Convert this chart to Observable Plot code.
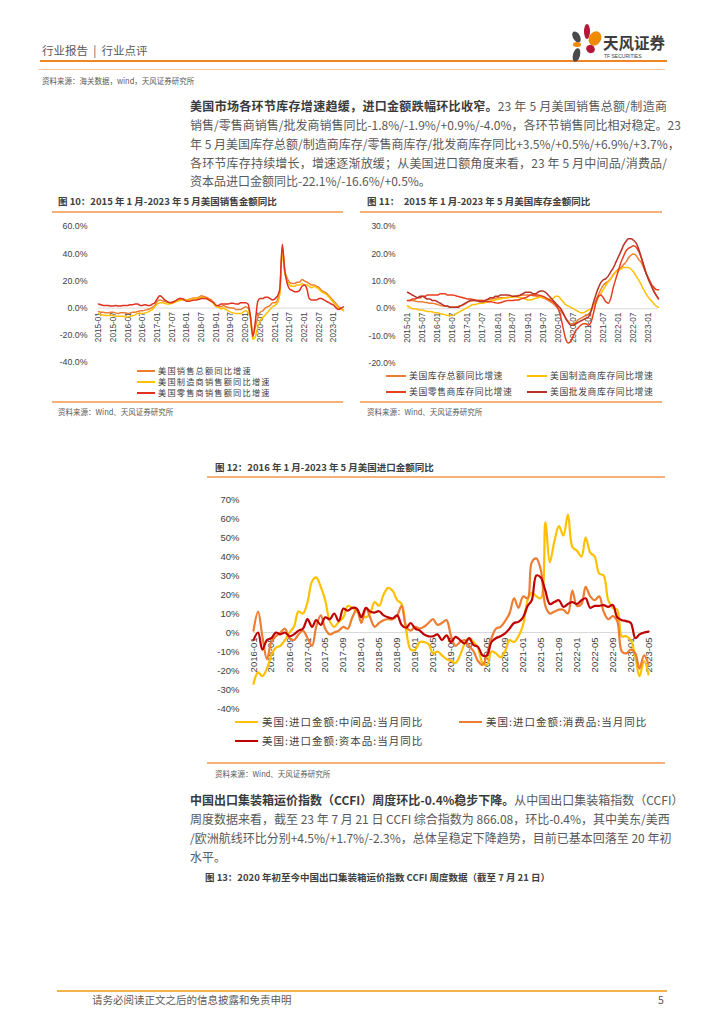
<!DOCTYPE html>
<html><head><meta charset="utf-8">
<script src="https://cdn.jsdelivr.net/npm/d3@7"></script>
<script src="https://cdn.jsdelivr.net/npm/@observablehq/plot@0.6"></script>
<style>
html,body{margin:0;padding:0;background:#fff;}
#page{position:relative;width:724px;height:1024px;overflow:hidden;font-family:"Noto Sans CJK SC","Noto Sans",sans-serif;color:#595959;}
.abs{position:absolute;white-space:nowrap;}
.rule{position:absolute;}
.para{position:absolute;left:190px;width:477px;font-size:12px;line-height:16px;height:16px;white-space:nowrap;color:#595959;}
.just{text-align:justify;text-align-last:justify;}
.para b{color:#3a3a3a;font-weight:700;}
.ftitle{position:absolute;font-size:9.5px;line-height:11px;font-weight:700;color:#404040;white-space:nowrap;}
.src{position:absolute;font-size:7.5px;line-height:9px;color:#595959;white-space:nowrap;}
.chart{position:absolute;}
.chart svg{overflow:visible;}
.lg{position:absolute;white-space:nowrap;color:#404040;}
.petal{position:absolute;border-radius:50%;}
</style></head>
<body><div id="page"></div>
<script>
// ---------------- data ----------------
const xTicks10 = ["2015-01","2015-07","2016-01","2016-07","2017-01","2017-07","2018-01","2018-07","2019-01","2019-07","2020-01","2020-07","2021-01","2021-07","2022-01","2022-07","2023-01"];
const yTicks10 = [60, 40, 20, 0, -20, -40];
const names10 = ["美国销售总额同比增速", "美国制造商销售额同比增速", "美国零售商销售额同比增速"];
const colors10 = ["#ED7D31", "#FFC000", "#E0301E"];
const salesTotal = [
 -2.5,-3,-3,-3.5,-3.5,-3,-3,-3.5,-4,-3.5,-3.5,-3.5,
 -4,-3.5,-3,-3,-2.5,-2,-2,-1.5,-1,-0.5,0.5,2,
 5,6,5.5,5,4.5,4,4.5,5,5.5,6,6.5,6.5,
 6,6.5,7,7.5,7.5,8,9,8.5,8,7,6,4,
 2,1.5,1,2,1,0.5,0,0,-1,-1,-1,0,
 1,0,-6,-20,-14,-7,-3,-2,0,1,2,4,
 4,6,12,45,28,22,19,18,18,19,19,21,
 20,19,18,17,17,16,15,13,12,11,9,7,
 5,3,1,0,-1.8];
const salesManu = [
 -4,-5,-5,-5.5,-5.5,-5,-5.5,-6,-6,-6,-6,-6.5,
 -6.5,-6,-5.5,-5,-4,-4,-4,-3.5,-3,-2,-1,1,
 3,4,4,3.5,3,3,3.5,4,5,5.5,6,6,
 6,6,6.5,7,7,7.5,8,7.5,7,6,5,3,
 1,0.5,-0.5,0,-1,-2,-3,-3.5,-4,-4,-4,-3,
 -2,-3,-8,-23,-21,-14,-9,-7,-5,-3,-1,1,
 2,4,10,40,26,20,17,16,16,17,17,18,
 17,17,16,15,16,15,14,12,11,10,8,6,
 4,2,0,-1,-1.9];
const salesRetail = [
 3,2.5,2,2,2,1.5,1.5,2,1.5,1.5,2,2,
 2,2.5,2.5,3,3,2,2,2.5,2,2,3,4,
 7,9,8,6,5,4,4,5,6,7,7,6,
 5,5,5.5,6,6,6.5,7,7,7,6,5,4,
 2,2,3,3,3,3,3.5,3.5,3,3,4,4,
 4,3,-6,-21,-10,5,7,7,8,8,7,6,
 7,9,14,47,28,18,14,13,12,12,13,16,
 17,14,7,6,6,6,7,7,6,5,4,3,
 2,0,-1,0,0.9];

const xTicks11 = xTicks10;
const yTicks11 = [30, 20, 10, 0, -10, -20];
const names11 = ["美国库存总额同比增速", "美国制造商库存同比增速", "美国零售商库存同比增速", "美国批发商库存同比增速"];
const colors11 = ["#ED7D31", "#FFC000", "#E8401C", "#B8322A"];
const invTotal = [
 3,3,3,2.8,2.6,2.5,2.5,2.3,2.2,2,2,1.8,
 1.5,1.2,1,1,0.8,0.6,0.5,0.6,0.8,1,1.2,1.8,
 2.5,2.8,3,3,3,3,3,3,3.2,3.4,3.6,3.8,
 4,4,4,4,4.2,4.2,4.5,4.6,4.8,4.8,5,5,
 5,5,4.8,4.6,4.4,4.2,4,3.6,3,2.5,1.8,1,
 0,-1,-2,-3.5,-4.5,-5.5,-5.5,-5,-4,-3.5,-3,-2.5,
 -2,-1,1,3,5,7,8.5,9.5,10,11,12.5,13.5,
 14.5,15,16,17,18.5,19.5,20,19.5,18,17,15,13,
 11,9,7,5,3.5];
const invManu = [
 1,0.5,0,0,-0.3,-0.5,-0.5,-0.8,-1,-1,-1.2,-1.5,
 -1.5,-1.8,-2,-2.2,-2.5,-2.5,-2.5,-2,-1.5,-1,-0.5,0,
 0.5,1,1.5,1.5,1.8,2,2,2.2,2.5,2.8,3,3.2,
 3.5,3.6,3.8,4,4,4.2,4.2,4.4,4.2,4,3.8,3.5,
 3.2,3.2,3.5,3.8,4,4.2,4,3.8,3.6,3.5,3.8,4.5,
 4.5,3.5,2.5,1.5,1,0.5,0,-0.5,-1,-1.5,-1.5,-1,
 -0.5,0,1,2,4,5.5,7,8.5,10,11,12.5,13.5,
 14,14.5,15,15,15,14.5,13.5,12,10.5,9,7,5.5,
 4,3,2,1,0.5];
const invRetail = [
 3,3,3.5,3.5,4,4,4.5,4.5,5,5,5,5,
 5,5.5,5.5,5.5,5,5,5,4.8,4.5,4.3,4,3.8,
 3.5,3.5,3.4,3.2,3,3,3,2.8,2.5,2.5,2.4,2.2,
 2,2.2,2.5,2.8,3,3,3,3.2,3.2,3.5,3.8,4,
 4.5,5,5,5,5,4.8,4.5,4,3.5,3,2.5,1.5,
 0,-3,-7,-11,-12.5,-12,-10,-8,-7,-6,-5.5,-5.5,
 -6,-5,-2,2,4.5,5,4,2.5,2,4,8,11,
 14,17,19,21,22,22.5,23,22.5,21,19,16,13,
 11,9,8,7,6.9];
const invWholesale = [
 6,5.5,5,4.5,4,4.5,4.5,4,3.5,3.5,3,3,
 2.5,2,1.5,1,1,0.5,0.5,0.5,0.5,1,1.5,2,
 2.5,3,3,3,2.8,2.5,2.5,3,3.5,4,4,4.5,
 4.5,5,5,5,5,4.8,4.5,4.5,4.6,5,5.5,6,
 6,6,5.5,5.5,6,6.5,6.5,6,5,4,3,2,
 1,0,-1.5,-3.5,-5,-6,-6,-5.5,-5,-4.5,-4,-3.5,
 -3,-1,2,5,7.5,9.5,10.5,11,12,13.5,15,17,
 19,21,23,24.5,25.5,25.5,25,24,22,19,16,13,
 10.5,8.5,6.5,5,3.7];

const xTicks12 = ["2016-01","2016-05","2016-09","2017-01","2017-05","2017-09","2018-01","2018-05","2018-09","2019-01","2019-05","2019-09","2020-01","2020-05","2020-09","2021-01","2021-05","2021-09","2022-01","2022-05","2022-09","2023-01","2023-05"];
const yTicks12 = [70, 60, 50, 40, 30, 20, 10, 0, -10, -20, -30, -40];
const names12 = ["美国:进口金额:中间品:当月同比", "美国:进口金额:消费品:当月同比", "美国:进口金额:资本品:当月同比"];
const colors12 = ["#FFC000", "#ED7D31", "#C00000"];
const impIntermediate = [
 -27,-21,-23,-19,-12,-8,-7,-4,0,3,11,10,
 16,27,29,24,17,6,3,5.6,8,14,13,11,
 9,8,10,16,14,20,23.5,22,17,15,1,-9,
 -9,-5,-5,-6,-11,-10,-12,-14,-15,-16,-12,-6,
 -3,-5,-8,-16,-17,-10,-11,-13,-10,-4,-5,-2,
 4,17,21,19,18,58,37,48,56,51,62,45,
 43,40,50,42,40,31,30,17,13,12,-2,-2,
 -4,-13,-23,-15,-22.1];
const impConsumer = [
 1,11,-2,-14,-5,-2,0,2,-3,-4,-1,1,
 -3,-7,3,9,2,-1,0,1,3,2,8,12,
 5,13,8,3,5,6.5,7,7,9,14,3,1,
 3,2,3,5,7,4,5,6.5,-2,-7,-5,-4,
 -7,-10,-15,-17,-12,-3,2,3,6,10,18,13,
 19,18,37,39,33,14,10,11,12,12,10,22,
 14,15,24,19,17,19,11,7,8.6,6,-10,-11,
 -9,-11,-19,-12,-16.6];
const impCapital = [
 -4,0,-9,-4,-3,0,-1,0,-2,-1,1,2,
 7,3,6.5,4,8,7,10,6,12.6,11.5,13,12.6,
 8,13,11,10.5,11.2,9,8,7.5,9,4,2.5,5,
 2,1,-1,-2,-2,-1,-4,-1.5,-5,-2.3,-4,-5.8,
 -3,-6.7,-7.5,-12,-12,-5,-3,-2,-0.5,2,5,5.6,
 8,14,17,30,29,22,15,16,17,13.5,15,16,
 15,17,18,13,14,14,14.4,13.5,14.5,8,6.5,6,
 5,-3,-1,0,0.5];

// ---------------- helpers ----------------
const page = document.getElementById("page");
const chartFont = '"Liberation Sans", Arial, "Noto Sans CJK SC", sans-serif';
function el(cls, css, html) {
  const d = document.createElement("div");
  d.className = cls;
  Object.assign(d.style, css);
  if (html != null) d.innerHTML = html;
  page.appendChild(d);
  return d;
}
function rule(left, top, width, height, color) {
  el("rule", {left: left + "px", top: top + "px", width: width + "px", height: height + "px", background: color});
}
function monthsFrom(y, m, n) { return d3.range(n).map(i => new Date(Date.UTC(y, m - 1 + i, 1))); }
function series(dates, values, name) { return values.map((v, i) => ({date: dates[i], value: v, name})); }
function parseTick(s) { return new Date(s + "-01T00:00:00Z"); }

// ---------------- header ----------------
el("abs", {left: "42px", top: "43px", fontSize: "11.5px", lineHeight: "14px", color: "#595959"}, "行业报告&nbsp;&nbsp;|&nbsp;&nbsp;行业点评");
rule(40, 60, 627, 2, "#F08528");
rule(38, 68.5, 627, 1, "#F9CBA3");
el("src", {left: "42px", top: "75.5px"}, "资料来源：海关数据，wind，天风证券研究所");
// logo
const logo = [
  {l: 573, t: 31, w: 7, h: 12, c: "#4a4a4a", r: -30},
  {l: 584, t: 24, w: 6, h: 15, c: "#B5173A", r: 0},
  {l: 589, t: 31, w: 12, h: 15, c: "#F08A00", r: 30},
  {l: 573, t: 42, w: 8, h: 5, c: "#F08A00", r: 0},
  {l: 586, t: 45, w: 9, h: 8, c: "#B5173A", r: 30},
  {l: 573, t: 48, w: 7, h: 14, c: "#4a4a4a", r: 15}
];
logo.forEach(p => el("petal", {left: p.l + "px", top: p.t + "px", width: p.w + "px", height: p.h + "px", background: p.c, transform: `rotate(${p.r}deg)`}));
el("abs", {left: "603px", top: "34px", fontSize: "15.5px", lineHeight: "17px", fontWeight: "700", color: "#3d3d3d"}, "天风证券");
el("abs", {left: "604px", top: "53px", fontSize: "5px", lineHeight: "6px", color: "#3d3d3d", fontFamily: "Liberation Sans, Arial"}, "TF SECURITIES");

// ---------------- paragraph 1 ----------------
const p1 = [
  ["just", "<b>美国市场各环节库存增速趋缓，进口金额跌幅环比收窄。</b>23 年 5 月美国销售总额/制造商"],
  ["just", "销售/零售商销售/批发商销售同比-1.8%/-1.9%/+0.9%/-4.0%，各环节销售同比相对稳定。23"],
  ["just", "年 5 月美国库存总额/制造商库存/零售商库存/批发商库存同比+3.5%/+0.5%/+6.9%/+3.7%，"],
  ["just", "各环节库存持续增长，增速逐渐放缓；从美国进口额角度来看，23 年 5 月中间品/消费品/"],
  ["", "资本品进口金额同比-22.1%/-16.6%/+0.5%。"]
];
[106, 125, 144, 162.5, 181].forEach((y, i) => el("para " + p1[i][0], {top: (y - 8) + "px"}, p1[i][1]));

// ---------------- legends ----------------
function legend(items, colors, xLine, xText, yc, lw, lh, fs, ls) {
  items.forEach((name, i) => {
    el("rule", {left: xLine[i] + "px", top: (yc[i] - lh / 2) + "px", width: lw + "px", height: lh + "px", background: colors[i]});
    el("lg", {left: xText[i] + "px", top: (yc[i] - fs * 0.55) + "px", fontSize: fs + "px", lineHeight: (fs * 1.1) + "px", height: (fs * 1.1) + "px", letterSpacing: ls + "px"}, name);
  });
}

function drawChart(opts) {
  const {left, top, width, height, mL, mR, mT, mB, yDomain, yTicks, yFmt, yFs, pad, xTicks, xFs, dy, dates, data, colors, sw, curve} = opts;
  const marks = [
    Plot.ruleY([0], {stroke: "#D9D9D9", strokeWidth: 1}),
    Plot.axisY({ticks: yTicks, tickSize: 0, tickPadding: pad, tickFormat: yFmt, fontSize: yFs, fill: "#404040", label: null}),
    Plot.text(xTicks, {x: parseTick, y: 0, text: d => d, rotate: -90, textAnchor: "end", dy: dy, fontSize: xFs, fill: "#404040"})
  ];
  data.forEach((vals, i) => {
    marks.push(Plot.line(series(dates, vals, i), {x: "date", y: "value", stroke: colors[i], strokeWidth: sw, curve}));
  });
  const svg = Plot.plot({
    width, height, marginLeft: mL, marginRight: mR, marginTop: mT, marginBottom: mB,
    x: {type: "utc", domain: [dates[0], dates[dates.length - 1]], axis: null},
    y: {domain: yDomain},
    style: {fontFamily: chartFont, background: "transparent", color: "#404040"},
    marks
  });
  const c = el("chart", {left: left + "px", top: top + "px", width: width + "px", height: height + "px"});
  c.appendChild(svg);
}

// ---------------- figure 10 ----------------
el("ftitle", {left: "58px", top: "195.5px"}, "图 10：2015 年 1 月-2023 年 5 月美国销售金额同比");
rule(52, 211, 291, 1.5, "#F6B07A");
const dates10 = monthsFrom(2015, 1, salesTotal.length);
drawChart({left: 32, top: 215, width: 320, height: 150, mL: 66, mR: 9, mT: 11, mB: 3,
  yDomain: [-40, 60], yTicks: yTicks10, yFmt: d => d.toFixed(1) + "%", yFs: 8.8, pad: 11,
  xTicks: xTicks10, xFs: 8.2, dy: 4, dates: dates10,
  data: [salesTotal, salesManu, salesRetail], colors: colors10, sw: 1.5, curve: "monotone-x"});
legend(names10, colors10, [137, 137, 137], [158, 158, 158], [370.5, 381.5, 392.5], 18, 2, 8.2, 1.2);
rule(52, 401, 291, 1.5, "#F6B07A");
el("src", {left: "58px", top: "406.5px"}, "资料来源：Wind、天风证券研究所");

// ---------------- figure 11 ----------------
el("ftitle", {left: "367px", top: "195.5px"}, "图 11：&nbsp;&nbsp;2015 年 1 月-2023 年 5 月美国库存金额同比");
rule(360, 211, 302, 1.5, "#F6B07A");
const dates11 = monthsFrom(2015, 1, invTotal.length);
drawChart({left: 362, top: 215, width: 300, height: 150, mL: 45, mR: 4, mT: 11, mB: 2,
  yDomain: [-20, 30], yTicks: yTicks11, yFmt: d => d.toFixed(1) + "%", yFs: 8.5, pad: 12,
  xTicks: xTicks11, xFs: 8.2, dy: 4, dates: dates11,
  data: [invTotal, invManu, invRetail, invWholesale], colors: colors11, sw: 1.5, curve: "monotone-x"});
legend(names11, colors11, [386, 527, 386, 527], [409, 550, 409, 550], [375.5, 375.5, 392, 392], 20, 2, 8.8, 0.6);
rule(360, 401, 302, 1.5, "#F6B07A");
el("src", {left: "367px", top: "406.5px"}, "资料来源：Wind、天风证券研究所");

// ---------------- figure 12 ----------------
el("ftitle", {left: "215px", top: "461.5px"}, "图 12：2016 年 1 月-2023 年 5 月美国进口金额同比");
rule(207, 476, 458, 1.5, "#F6B07A");
const dates12 = monthsFrom(2016, 1, impIntermediate.length);
drawChart({left: 205, top: 490, width: 455, height: 225, mL: 48, mR: 12, mT: 9, mB: 7,
  yDomain: [-40, 70], yTicks: yTicks12, yFmt: d => d + "%", yFs: 9.5, pad: 14,
  xTicks: xTicks12, xFs: 9.5, dy: 5, dates: dates12,
  data: [impIntermediate, impConsumer, impCapital], colors: colors12, sw: 2.2, curve: "catmull-rom"});
legend(names12, colors12, [235, 459, 235], [262, 486, 262], [722, 722, 741], 23, 2.5, 10.5, 1);
rule(207, 762, 458, 1.5, "#F6B07A");
el("src", {left: "215px", top: "768.5px"}, "资料来源：Wind、天风证券研究所");

// ---------------- paragraph 2 ----------------
const p2 = [
  ["just", "<b>中国出口集装箱运价指数（CCFI）周度环比-0.4%稳步下降。</b>从中国出口集装箱指数（CCFI）"],
  ["just", "周度数据来看，截至 23 年 7 月 21 日 CCFI 综合指数为 866.08，环比-0.4%，其中美东/美西"],
  ["just", "/欧洲航线环比分别+4.5%/+1.7%/-2.3%，总体呈稳定下降趋势，目前已基本回落至 20 年初"],
  ["", "水平。"]
];
[800, 819, 838, 857].forEach((y, i) => el("para " + p2[i][0], {top: (y - 8) + "px"}, p2[i][1]));
el("ftitle", {left: "205px", top: "871.5px"}, "图 13：2020 年初至今中国出口集装箱运价指数 CCFI 周度数据（截至 7 月 21 日）");

// ---------------- footer ----------------
rule(57, 990, 610, 1.5, "#F2B24C");
el("abs", {left: "92px", top: "993px", fontSize: "10.5px", lineHeight: "14px", color: "#595959"}, "请务必阅读正文之后的信息披露和免责申明");
el("abs", {left: "658px", top: "993px", fontSize: "10.5px", lineHeight: "14px", color: "#595959"}, "5");
</script>
</body></html>
